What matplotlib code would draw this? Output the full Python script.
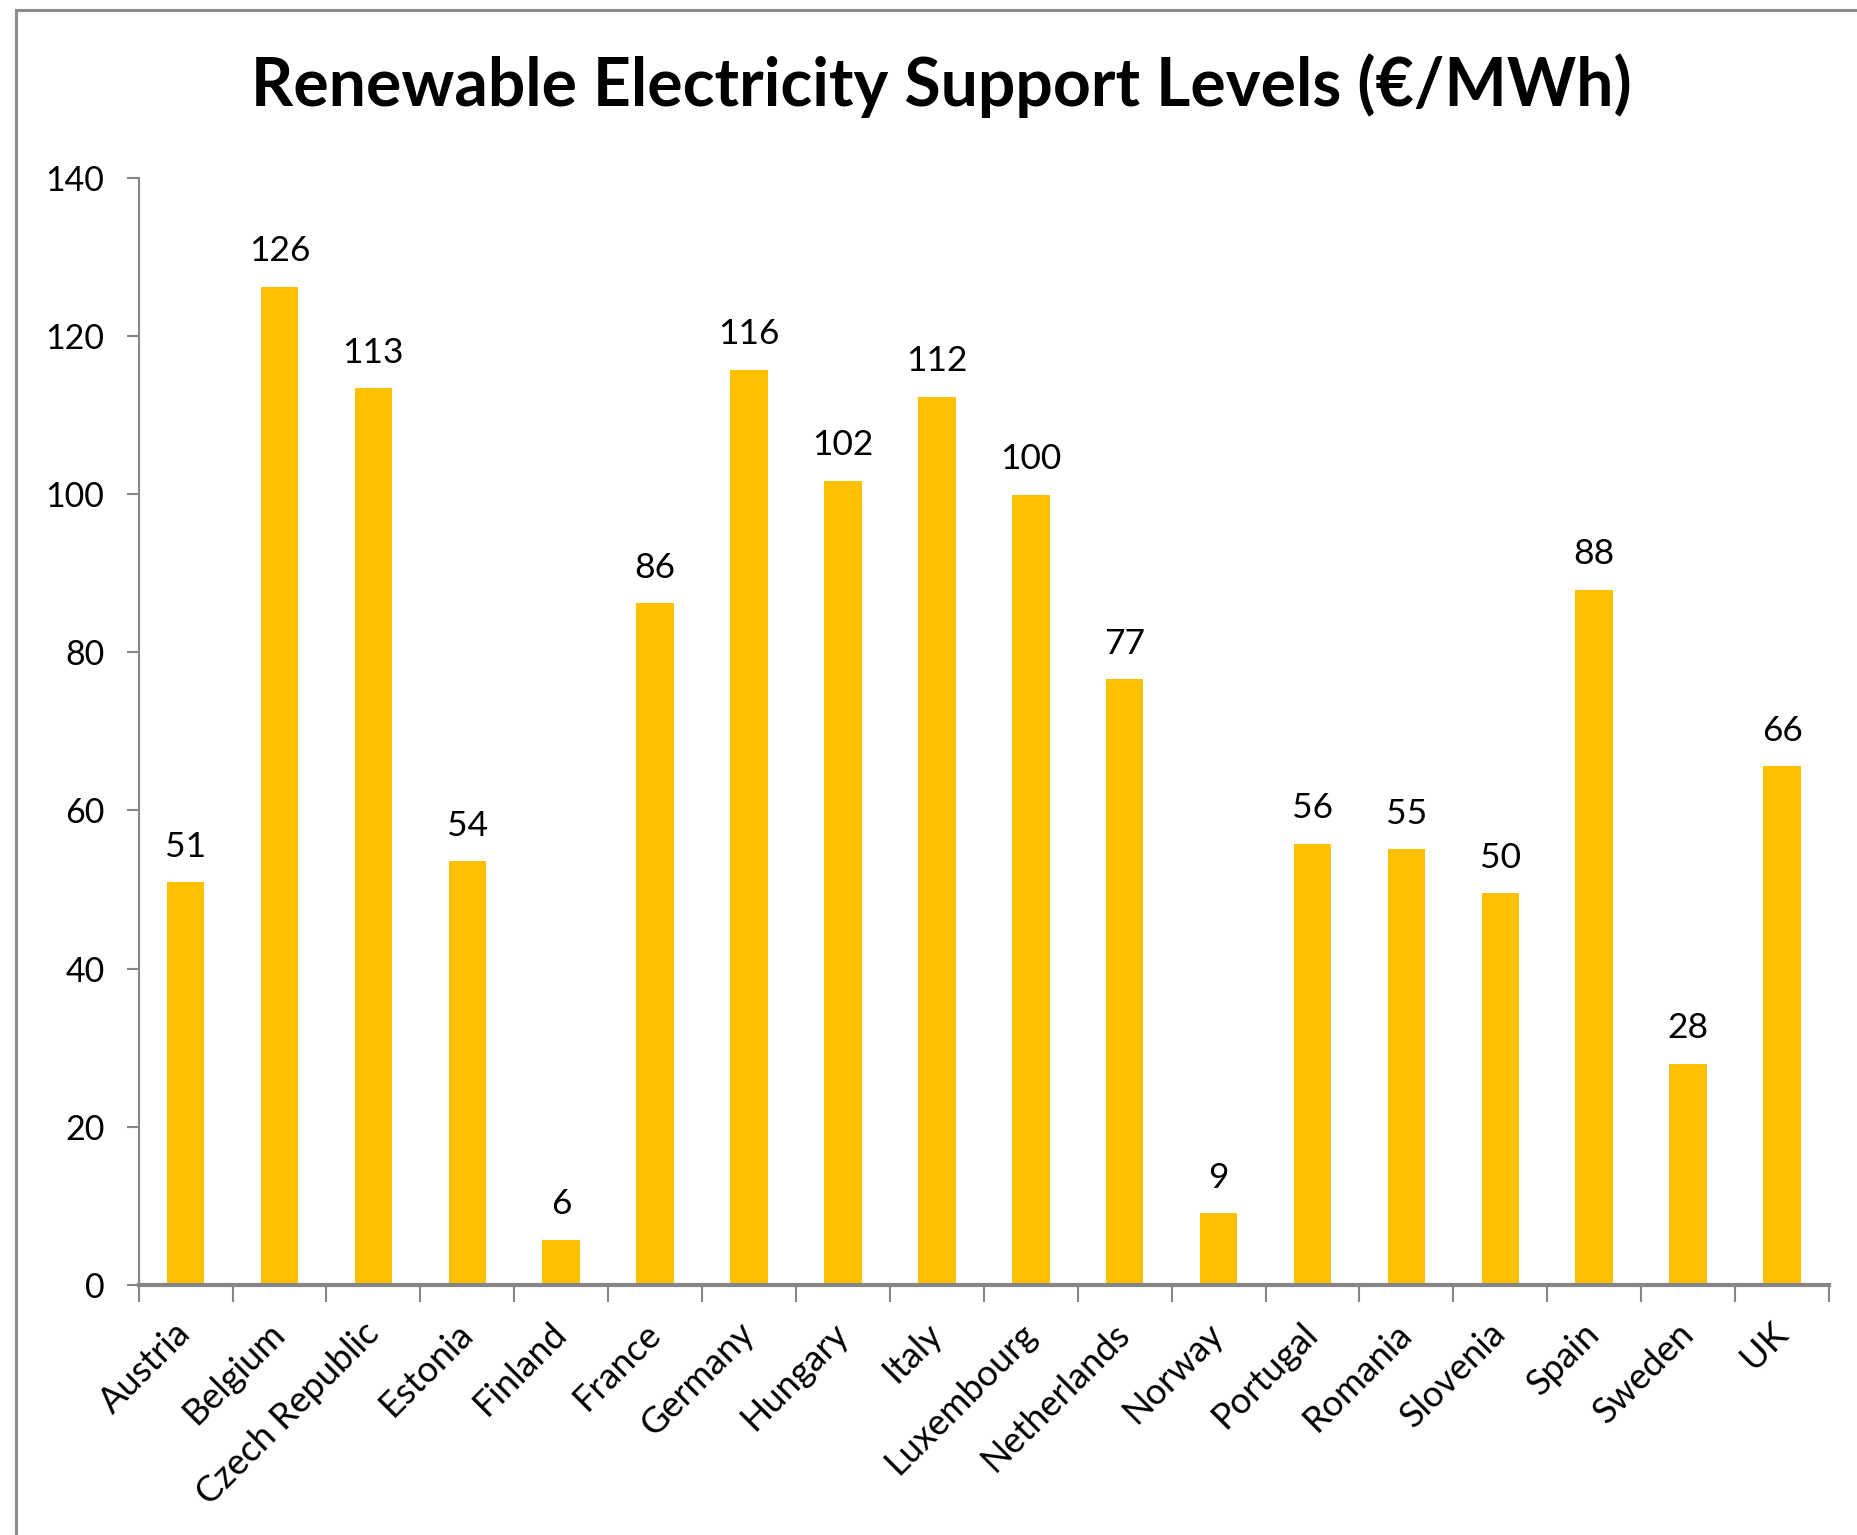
import matplotlib
matplotlib.use("Agg")
import matplotlib.pyplot as plt
from matplotlib.patches import Rectangle

countries = ["Austria", "Belgium", "Czech Republic", "Estonia", "Finland", "France",
             "Germany", "Hungary", "Italy", "Luxembourg", "Netherlands", "Norway",
             "Portugal", "Romania", "Slovenia", "Spain", "Sweden", "UK"]
values = [50.9, 126.2, 113.4, 53.6, 5.7, 86.2, 115.7, 101.7, 112.3, 99.9, 76.6, 9.1,
          55.8, 55.1, 49.5, 87.9, 28.0, 65.6]
yticks = [0, 20, 40, 60, 80, 100, 120, 140]
title = "Renewable Electricity Support Levels (€/MWh)"

plt.rcParams['font.family'] = ['Lato', 'DejaVu Sans']

W, H = 1857, 1535
fig = plt.figure(figsize=(W / 100, H / 100), dpi=100)
fig.patch.set_facecolor("white")

# outer chart border (left & top visible)
fig.patches.append(Rectangle((16 / W, -0.1), 1.2, 1.1 - 10 / H,
                             transform=fig.transFigure, fill=False,
                             edgecolor="#8c8c8c", linewidth=2.2))

ax = fig.add_axes([138.6 / W, 1 - 1285 / H, (1829 - 138.6) / W, (1285 - 177.6) / H])
x = list(range(len(countries)))
ax.bar(x, values, width=0.4, color="#FFC000", zorder=2)

for xi, v in zip(x, values):
    ax.annotate(f"{v:.0f}", (xi, v), xytext=(0, 14), textcoords="offset points",
                ha="center", va="bottom", fontsize=25.5, color="black")

ax.set_xlim(-0.5, len(countries) - 0.5)
ax.set_ylim(0, 140)
ax.set_yticks(yticks)
ax.set_yticklabels([str(t) for t in yticks], fontsize=24.5)

ax.set_xticks([i + 0.5 for i in range(-1, len(countries))], minor=False)
ax.set_xticklabels([""] * (len(countries) + 1))
ax.set_xticks(x, minor=True)
ax.set_xticklabels(countries, minor=True, rotation=45, ha="right", va="center",
                   rotation_mode="anchor", fontsize=26)
ax.tick_params(axis="x", which="minor", length=0, pad=31)
ax.tick_params(axis="x", which="major", length=12, width=1.5, color="#868686", direction="out")
ax.tick_params(axis="y", length=8.6, width=1.5, color="#868686", direction="out", pad=16)

for s in ["top", "right"]:
    ax.spines[s].set_visible(False)
ax.spines["left"].set_color("#868686")
ax.spines["bottom"].set_color("#868686")
ax.spines["left"].set_linewidth(1.5)
ax.spines["bottom"].set_linewidth(3)

fig.text(941 / W, 1 - 86 / H, title, ha="center", va="center",
         fontsize=47.5, fontweight="bold", color="black")

fig.savefig("out.png", dpi=100)
